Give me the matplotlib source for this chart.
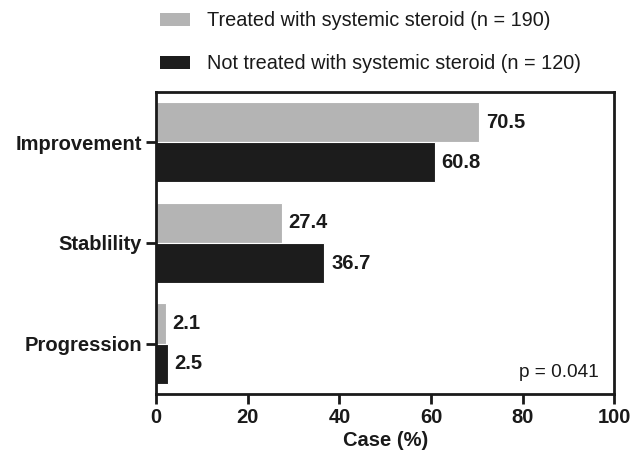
import matplotlib.pyplot as plt
from matplotlib.patches import Patch
import numpy as np

plt.rcParams['font.family'] = ['Liberation Sans', 'DejaVu Sans']

categories = ['Improvement', 'Stablility', 'Progression']
treated = [70.5, 27.4, 2.1]
not_treated = [60.8, 36.7, 2.5]
labels = ['Treated with systemic steroid (n = 190)',
          'Not treated with systemic steroid (n = 120)']
gray = '#b4b4b4'
dark = '#1c1c1c'

fig = plt.figure(figsize=(6.32, 4.57), dpi=100)
ax = fig.add_axes([0.247, 0.138, 0.725, 0.661])

y = np.arange(len(categories))
h = 0.4
ax.barh(y - h / 2, treated, height=h, color=gray, edgecolor='white', linewidth=0.8)
ax.barh(y + h / 2, not_treated, height=h, color=dark, edgecolor='white', linewidth=0.8)

for yi, v in zip(y, treated):
    ax.text(v + 1.5, yi - h / 2, f'{v}', va='center', ha='left',
            fontsize=14.5, fontweight='bold', color='#1a1a1a')
for yi, v in zip(y, not_treated):
    ax.text(v + 1.5, yi + h / 2, f'{v}', va='center', ha='left',
            fontsize=14.5, fontweight='bold', color='#1a1a1a')

ax.set_xlim(0, 100)
ax.set_ylim(2.5, -0.5)
ax.set_xticks([0, 20, 40, 60, 80, 100])
ax.set_yticks(y)
ax.set_yticklabels(categories)
for lab in ax.get_xticklabels() + ax.get_yticklabels():
    lab.set_fontweight('bold')
    lab.set_fontsize(14.5)
    lab.set_color('#1a1a1a')
ax.tick_params(axis='both', width=2, length=7, color='#1a1a1a', pad=3)
for s in ax.spines.values():
    s.set_linewidth(2)
    s.set_color('#1a1a1a')
ax.set_xlabel('Case (%)', fontsize=14.5, fontweight='bold', color='#1a1a1a', labelpad=3)

ax.text(0.965, 0.07, 'p = 0.041', transform=ax.transAxes, ha='right', va='center',
        fontsize=13.7, color='#1a1a1a')

handles = [Patch(facecolor=gray, edgecolor='none'), Patch(facecolor=dark, edgecolor='none')]
fig.legend(handles, labels, loc='upper left', bbox_to_anchor=(0.253, 0.975),
           frameon=False, fontsize=14.3, handlelength=1.5, handleheight=0.65,
           handletextpad=0.85, labelspacing=1.2, borderpad=0, borderaxespad=0,
           labelcolor='#1a1a1a')

fig.savefig('out.png', dpi=100)
